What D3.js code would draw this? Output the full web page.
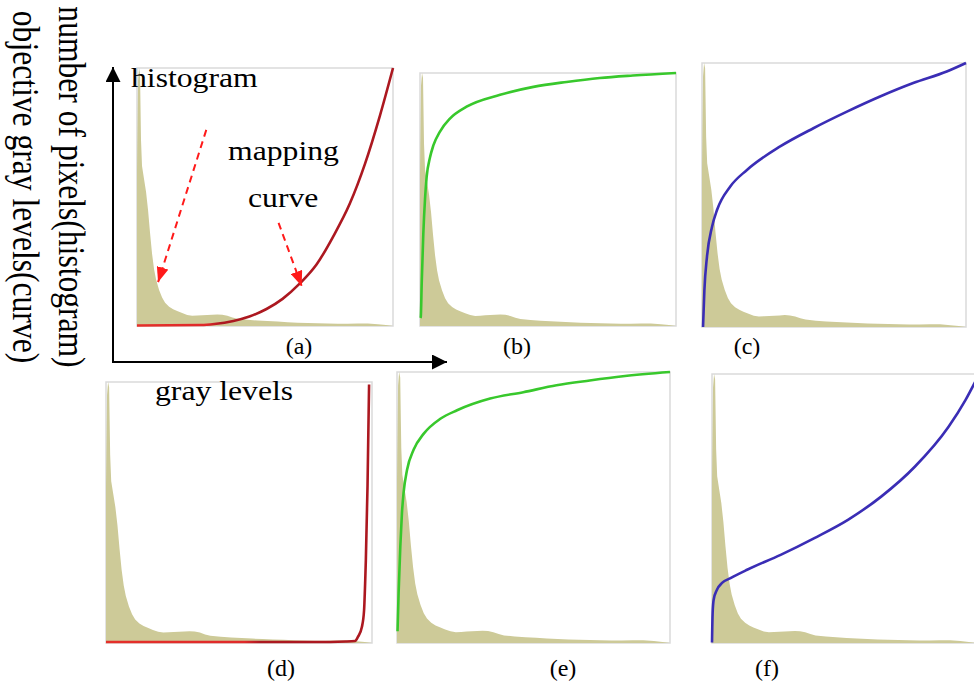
<!DOCTYPE html>
<html>
<head>
<meta charset="utf-8">
<script src="https://cdn.jsdelivr.net/npm/d3@7"></script>
<style>
  body { margin: 0; background: #fff; }
  svg { display: block; }
  text { font-family: "Liberation Serif", "Times New Roman", serif; fill: #000; }
</style>
</head>
<body>
<svg></svg>
<script>
const width = 974;
const height = 689;

// Histogram of the input image (gray level -> share of the peak)
const histLevels = [0, 1, 2, 3, 4, 5, 7, 9, 11, 13, 15, 17, 19, 22, 25, 28, 32, 36, 40, 45, 50, 55, 60, 65, 70, 75, 80, 85, 90, 95, 100, 110, 120, 130, 140, 150, 160, 170, 180, 190, 200, 210, 220, 230, 240, 248, 255];
const histCounts = [0.6, 0.95, 1.0, 0.98, 0.72, 0.62, 0.57, 0.52, 0.45, 0.36, 0.28, 0.22, 0.18, 0.14, 0.11, 0.09, 0.075, 0.065, 0.058, 0.05, 0.043, 0.04, 0.041, 0.042, 0.043, 0.044, 0.045, 0.044, 0.04, 0.033, 0.028, 0.024, 0.021, 0.019, 0.017, 0.015, 0.013, 0.012, 0.011, 0.01, 0.009, 0.009, 0.01, 0.01, 0.007, 0.004, 0];

// Mapping curves: [input gray level, objective gray level]
const curveA = [[0, 0.5], [64, 1], [77, 2], [96, 5], [112, 9.4], [129, 16.8], [145, 26.8], [162, 41.8], [179, 61], [195, 87.7], [212, 121], [227, 160], [242, 208], [255, 255]];
const curveB = [[0.5, 8], [0.8, 9.4], [1.7, 43], [3.3, 93], [5, 128], [6.6, 150], [10, 170], [13.3, 182], [19.9, 196], [29.8, 209], [46.4, 221], [79.8, 233], [113, 241], [146, 246], [179, 250], [212, 252.5], [255, 255]];
const curveC = [[1, 0], [2.3, 35.4], [4.8, 67.8], [9.7, 96.9], [14.5, 113], [27.3, 135.7], [43.4, 151.7], [75.5, 174.4], [107.6, 192], [140, 208], [172, 222.6], [204, 235.6], [236.4, 246.8], [255, 255]];
const curveD = [[0, 1], [128, 1], [200, 1], [230, 1.5], [238.7, 2], [241.5, 5.9], [245.3, 15.6], [247.4, 32], [248.5, 61], [249.1, 81], [250.7, 153], [252.2, 252.5]];
const curveE = [[0.5, 11], [1.5, 47], [3.1, 91], [4.6, 122], [6.1, 141], [9.4, 163], [15.6, 182], [25, 197], [40.5, 211], [56.1, 219], [87, 230], [118, 236], [149, 242.5], [180, 247], [211, 251], [255, 255]];
const curveF = [[0, 0.5], [0.6, 28.3], [1.6, 41], [4.8, 50.5], [9.7, 56.9], [17.9, 61.5], [33.9, 69.4], [66.3, 83.6], [98.9, 99.5], [131.3, 116.8], [163.7, 139], [196.1, 167.3], [228.5, 205], [244.8, 230.3], [255, 249.1]];

// Annotation arrows in panel (a): [from level, from value, to level, to value]
const arrowHist = [69, 0.76, 21, 0.17];    // histogram share units
const arrowCurve = [141, 0.4, 164, 0.155];  // share of 255

const panels = [
  { label: "(a)", box: [137, 68, 393, 326], curve: curveA, color: "url(#redA)", lx: 299, ly: 354 },
  { label: "(b)", box: [420, 73, 676, 326], curve: curveB, color: "#38c82c", lx: 517, ly: 354 },
  { label: "(c)", box: [702, 63, 966, 327], curve: curveC, color: "#3a2db5", lx: 747, ly: 354 },
  { label: "(d)", box: [106, 382, 372, 643], curve: curveD, color: "url(#redD)", lx: 281, ly: 676 },
  { label: "(e)", box: [397, 372, 670, 643], curve: curveE, color: "#38c82c", lx: 563, ly: 676 },
  { label: "(f)", box: [712, 374, 976, 643], curve: curveF, color: "#3a2db5", lx: 767, ly: 676 }
];

const svg = d3.select("svg").attr("width", width).attr("height", height);
const defs = svg.append("defs");

// red curves are bright where they run along the bottom, darker when rising
const redGrad = (id, x0, x1, split) => {
  const g = defs.append("linearGradient").attr("id", id)
    .attr("gradientUnits", "userSpaceOnUse")
    .attr("x1", x0).attr("x2", x1).attr("y1", 0).attr("y2", 0);
  g.append("stop").attr("offset", 0).attr("stop-color", "#e4302a");
  g.append("stop").attr("offset", split).attr("stop-color", "#e02a2a");
  g.append("stop").attr("offset", split + 0.06).attr("stop-color", "#ac1820");
  g.append("stop").attr("offset", 1).attr("stop-color", "#ac1820");
};
redGrad("redA", 137, 393, 0.27);
redGrad("redD", 106, 372, 0.52);

const marker = (id, color, w, h) => {
  defs.append("marker").attr("id", id)
    .attr("markerUnits", "userSpaceOnUse")
    .attr("viewBox", `0 0 ${w} ${h}`)
    .attr("markerWidth", w).attr("markerHeight", h)
    .attr("refX", w).attr("refY", h / 2)
    .attr("orient", "auto")
    .append("path")
    .attr("d", `M0,0L${w},${h / 2}L0,${h}Z`)
    .attr("fill", color);
};
marker("arrBlack", "#000", 15, 15);
marker("arrRed", "#ff1a1a", 15, 12);

// Panels
panels.forEach((p) => {
  const [x0, y0, x1, y1] = p.box;
  const x = d3.scaleLinear().domain([0, 255]).range([x0, x1]);
  const yH = d3.scaleLinear().domain([0, 1]).range([y1, y0]);
  const yC = d3.scaleLinear().domain([0, 255]).range([y1, y0]);
  const g = svg.append("g");

  g.append("rect")
    .attr("x", x0).attr("y", y0)
    .attr("width", x1 - x0).attr("height", y1 - y0)
    .attr("fill", "#fff")
    .attr("stroke", "#dadada")
    .attr("stroke-width", 1.5);

  const area = d3.area()
    .x((d, i) => x(histLevels[i]))
    .y0(y1)
    .y1((d) => yH(d));

  g.append("path")
    .datum(histCounts)
    .attr("d", area)
    .attr("fill", "#cdca98");

  const line = d3.line()
    .x((d) => x(d[0]))
    .y((d) => yC(d[1]))
    .curve(d3.curveMonotoneX);

  g.append("path")
    .datum(p.curve)
    .attr("d", line)
    .attr("fill", "none")
    .attr("stroke", p.color)
    .attr("stroke-width", 2.6);

  svg.append("text")
    .attr("x", p.lx).attr("y", p.ly)
    .attr("text-anchor", "middle")
    .attr("font-size", 24)
    .text(p.label);

  p.x = x; p.yH = yH; p.yC = yC;
});

// Dashed annotation arrows in (a)
const pa = panels[0];
[arrowHist, arrowCurve].forEach((a) => {
  svg.append("line")
    .attr("x1", pa.x(a[0])).attr("y1", pa.yH(a[1]))
    .attr("x2", pa.x(a[2])).attr("y2", pa.yH(a[3]))
    .attr("stroke", "#ff1a1a").attr("stroke-width", 2)
    .attr("stroke-dasharray", "7,5")
    .attr("marker-end", "url(#arrRed)");
});

// Axis arrows
svg.append("line")
  .attr("x1", 113).attr("y1", 363).attr("x2", 113).attr("y2", 67)
  .attr("stroke", "#000").attr("stroke-width", 2)
  .attr("marker-end", "url(#arrBlack)");
svg.append("line")
  .attr("x1", 112).attr("y1", 362).attr("x2", 447).attr("y2", 362)
  .attr("stroke", "#000").attr("stroke-width", 2)
  .attr("marker-end", "url(#arrBlack)");

// Texts (the source figure is a little squeezed vertically)
const squeezed = (str, tx, ty) =>
  svg.append("text")
    .attr("transform", `translate(${tx},${ty}) scale(1,0.88)`)
    .attr("font-size", 31.7)
    .text(str);
squeezed("histogram", 131, 87);
squeezed("mapping", 228, 160);
squeezed("curve", 248, 207);
squeezed("gray levels", 155, 400);

const rotated = (str, tx) =>
  svg.append("text")
    .attr("transform", `translate(${tx},187) rotate(90) scale(0.81,1)`)
    .attr("text-anchor", "middle")
    .attr("font-size", 39)
    .text(str);
rotated("number of pixels(histogram)", 59);
rotated("objective gray levels(curve)", 13);
</script>
</body>
</html>
